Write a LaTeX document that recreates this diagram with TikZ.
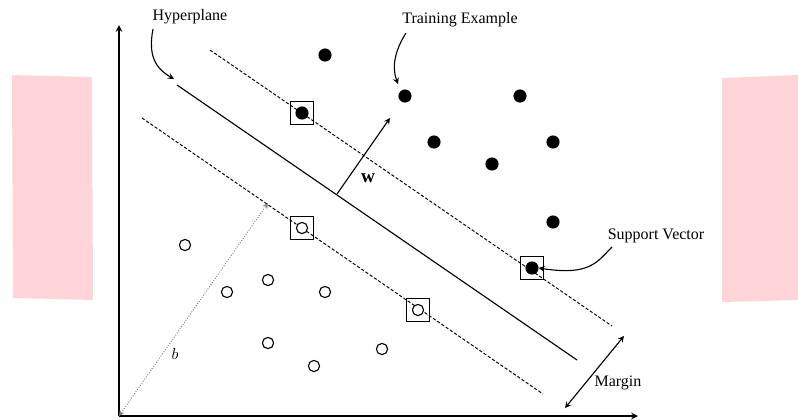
\documentclass[tikz,border=0pt]{standalone}
\usepackage{fontspec}
\setmainfont{Liberation Serif}
\usepackage{tikz}
\definecolor{panelpink}{RGB}{255,213,217}

\begin{document}
\begin{tikzpicture}[x = 0.625pt, y = -0.625pt, line width = 0.7pt, >=stealth,
                        posdot/.style = {circle, draw, fill = black, minimum size = 7.5pt, inner sep = 0pt},
                        negdot/.style = {circle, draw, fill = white, minimum size = 7pt, inner sep = 0pt},
                        sv/.style = {draw, line width = 0.8pt, minimum size = 14pt, inner sep = 0pt},
                        margin/.style = {dashed, dash pattern = on 2pt off 1.2pt},
                        lbl/.style = {font = \fontsize{10}{12}\selectfont}]
      \useasboundingbox (0, 0) rectangle (798, 419);

      % pink side panels
      \fill [panelpink] (12, 75) -- (92, 77) -- (93, 300) -- (13, 298) -- cycle;
      \fill [panelpink] (722, 78) -- (798, 75) -- (798, 300) -- (722, 302) -- cycle;

      % axes
      \coordinate (o) at (119, 416);
      \coordinate (ytop) at (119, 25);
      \coordinate (xend) at (638, 416);
      \draw [->, line width = 0.9pt] (o) -- (ytop);
      \draw [->, line width = 0.9pt] (o) -- (xend);

      % hyperplane and margins
      \coordinate (h1) at (177, 85);
      \coordinate (h2) at (577, 360);
      \coordinate (u1) at (210, 50);
      \coordinate (u2) at (612, 326);
      \coordinate (l1) at (142, 118);
      \coordinate (l2) at (543, 394);
      \draw (h1) -- (h2);
      \draw [margin, line width = 0.6pt] (u1) -- (u2);
      \draw [margin, line width = 0.6pt] (l1) -- (l2);

      % positive examples
      \node [posdot] (p1) at (325, 55){};
      \node [posdot] (p2) at (405, 96){};
      \node [posdot] (p3) at (520, 96){};
      \node [posdot] (p4) at (434, 142){};
      \node [posdot] (p5) at (492, 164){};
      \node [posdot] (p6) at (553, 142){};
      \node [posdot] (p7) at (553, 222){};
      \node [posdot] (p8) at (302, 113){};
      \node [posdot] (p9) at (532, 268){};
      \node [sv] (s1) at (p8){};
      \node [sv] (s2) at (p9){};

      % negative examples
      \node [negdot] (n1) at (185, 245){};
      \node [negdot] (n2) at (227, 292){};
      \node [negdot] (n3) at (268, 280){};
      \node [negdot] (n4) at (325, 292){};
      \node [negdot] (n5) at (268, 343){};
      \node [negdot] (n6) at (314, 366){};
      \node [negdot] (n7) at (382, 349){};
      \node [negdot] (n8) at (302, 228){};
      \node [negdot] (n9) at (418, 310){};
      \node [sv] (s3) at (n8){};
      \node [sv] (s4) at (n9){};

      % normal vector
      \coordinate (w0) at (337, 194);
      \coordinate (w1) at (390, 118);
      \draw [->] (w0) -- (w1);
      \node [lbl] (wlbl) at (368, 178){\large$\mathbf{w}$};

      % offset
      \coordinate (b1) at (268, 203);
      \draw [<->, gray, densely dotted, line width = 0.6pt] (o) -- (b1);
      \node [lbl] (blbl) at (175, 354){$b$};

      % margin width
      \coordinate (m1) at (565, 408);
      \coordinate (m2) at (624, 336);
      \draw [<->, line width = 0.7pt] (m1) -- (m2);
      \node [lbl] (mlbl) at (618, 383){Margin};

      % labels with arrows
      \node [lbl] (hyp) at (190, 17){Hyperplane};
      \coordinate (hyp0) at (153, 29);
      \coordinate (hyp1) at (174, 79);
      \draw [->] (hyp0) .. controls (148, 55) and (155, 68) .. (hyp1);

      \node [lbl] (train) at (460, 20){Training Example};
      \coordinate (tr0) at (406, 33);
      \coordinate (tr1) at (398, 84);
      \draw [->] (tr0) .. controls (394, 52) and (392, 68) .. (tr1);

      \node [lbl] (svlbl) at (656, 236){Support Vector};
      \coordinate (sv0) at (612, 247);
      \draw [->] (sv0) .. controls (597, 262) and (590, 276) .. (p9.east);
      \end{tikzpicture}
\end{document}
